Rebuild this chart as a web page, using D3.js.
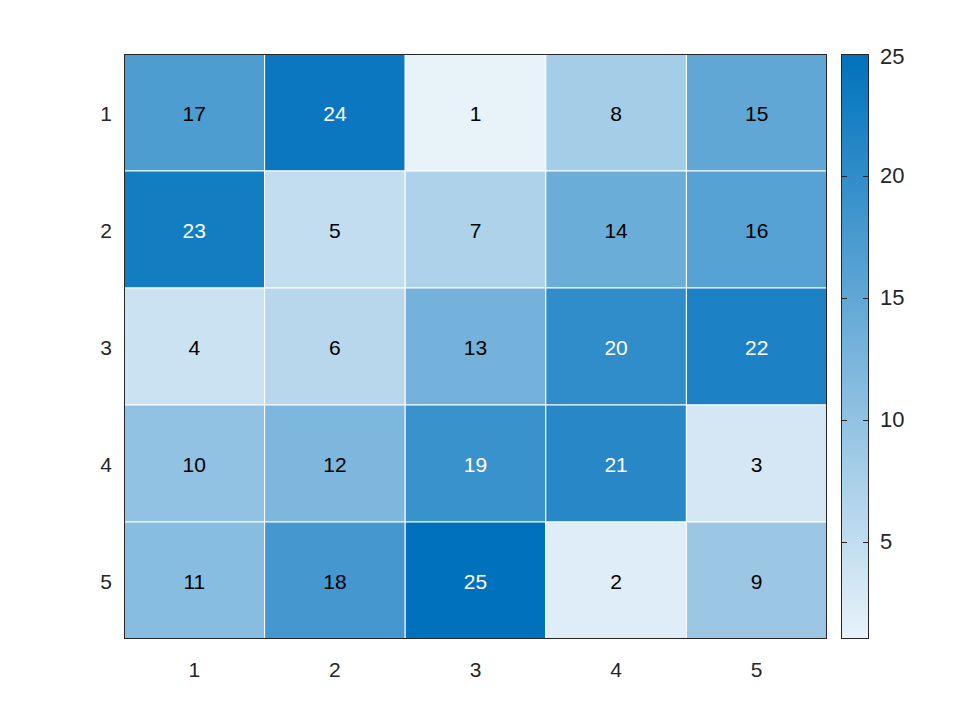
<!DOCTYPE html>
<html>
<head>
<meta charset="utf-8">
<script src="https://cdn.jsdelivr.net/npm/d3@7"></script>
<style>
body { margin: 0; background: #fff; }
text { font-family: "Liberation Sans", Arial, sans-serif; }
</style>
</head>
<body>
<div id="chart"></div>
<script>
// magic(5) heatmap
const rows = ["1", "2", "3", "4", "5"];
const cols = ["1", "2", "3", "4", "5"];
const values = [
	[17, 24, 1, 8, 15],
	[23, 5, 7, 14, 16],
	[4, 6, 13, 20, 22],
	[10, 12, 19, 21, 3],
	[11, 18, 25, 2, 9]
];
const cbar_ticks = [5, 10, 15, 20, 25];

const width = 960, height = 720;
const plot = { left: 124, top: 54, right: 827, bottom: 639 };
const cbar = { left: 841, right: 869 };

let svg = d3.select("#chart").append("svg")
	.attr("width", width)
	.attr("height", height);

const x = d3.scaleBand().domain(cols).range([plot.left, plot.right]);
const y = d3.scaleBand().domain(rows).range([plot.top, plot.bottom]);
const color = d3.scaleLinear().domain([1, 25]).range(["#e8f2f9", "#0072bd"]);

let cells = [];
values.forEach((r, i) => r.forEach((v, j) => cells.push({ row: rows[i], col: cols[j], v: v })));

svg.append("g").selectAll("rect")
	.data(cells)
	.join("rect")
	.attr("x", d => x(d.col))
	.attr("y", d => y(d.row))
	.attr("width", x.bandwidth())
	.attr("height", y.bandwidth())
	.attr("fill", d => color(d.v))
	.attr("stroke", "#fff")
	.attr("stroke-width", 1);

svg.append("g").selectAll("text")
	.data(cells)
	.join("text")
	.attr("x", d => x(d.col) + x.bandwidth() / 2)
	.attr("y", d => y(d.row) + y.bandwidth() / 2 + 1)
	.attr("text-anchor", "middle")
	.attr("dominant-baseline", "central")
	.attr("font-size", 21)
	.attr("fill", d => d.v > 18 ? "#fff" : "#000")
	.text(d => d.v);

svg.append("rect")
	.attr("x", plot.left + 0.5).attr("y", plot.top + 0.5)
	.attr("width", plot.right - plot.left - 1).attr("height", plot.bottom - plot.top - 1)
	.attr("fill", "none").attr("stroke", "#262626");

// axis labels
svg.append("g").selectAll("text")
	.data(rows)
	.join("text")
	.attr("x", 112)
	.attr("y", d => y(d) + y.bandwidth() / 2 + 1)
	.attr("text-anchor", "end")
	.attr("dominant-baseline", "central")
	.attr("font-size", 21)
	.attr("fill", "#262626")
	.text(d => d);

svg.append("g").selectAll("text")
	.data(cols)
	.join("text")
	.attr("x", d => x(d) + x.bandwidth() / 2)
	.attr("y", 669)
	.attr("text-anchor", "middle")
	.attr("dominant-baseline", "central")
	.attr("font-size", 21)
	.attr("fill", "#262626")
	.text(d => d);

// colorbar
const cy = d3.scaleLinear().domain([1, 25]).range([plot.bottom, plot.top]);
let grad = svg.append("defs").append("linearGradient")
	.attr("id", "cgrad").attr("x1", 0).attr("y1", 1).attr("x2", 0).attr("y2", 0);
grad.append("stop").attr("offset", 0).attr("stop-color", color(1));
grad.append("stop").attr("offset", 1).attr("stop-color", color(25));

svg.append("rect")
	.attr("x", cbar.left + 0.5).attr("y", plot.top + 0.5)
	.attr("width", cbar.right - cbar.left - 1).attr("height", plot.bottom - plot.top - 1)
	.attr("fill", "url(#cgrad)").attr("stroke", "#262626");

let tk = svg.append("g").selectAll("g")
	.data(cbar_ticks)
	.join("g");
tk.filter(d => d < 25).append("line")
	.attr("x1", cbar.left).attr("x2", cbar.left + 6)
	.attr("y1", d => Math.round(cy(d)) + 0.5).attr("y2", d => Math.round(cy(d)) + 0.5)
	.attr("stroke", "#262626");
tk.filter(d => d < 25).append("line")
	.attr("x1", cbar.right - 6).attr("x2", cbar.right)
	.attr("y1", d => Math.round(cy(d)) + 0.5).attr("y2", d => Math.round(cy(d)) + 0.5)
	.attr("stroke", "#262626");
tk.append("text")
	.attr("x", 880)
	.attr("y", d => Math.max(cy(d), plot.top + 2))
	.attr("dominant-baseline", "central")
	.attr("font-size", 22)
	.attr("fill", "#262626")
	.text(d => d);
</script>
</body>
</html>
